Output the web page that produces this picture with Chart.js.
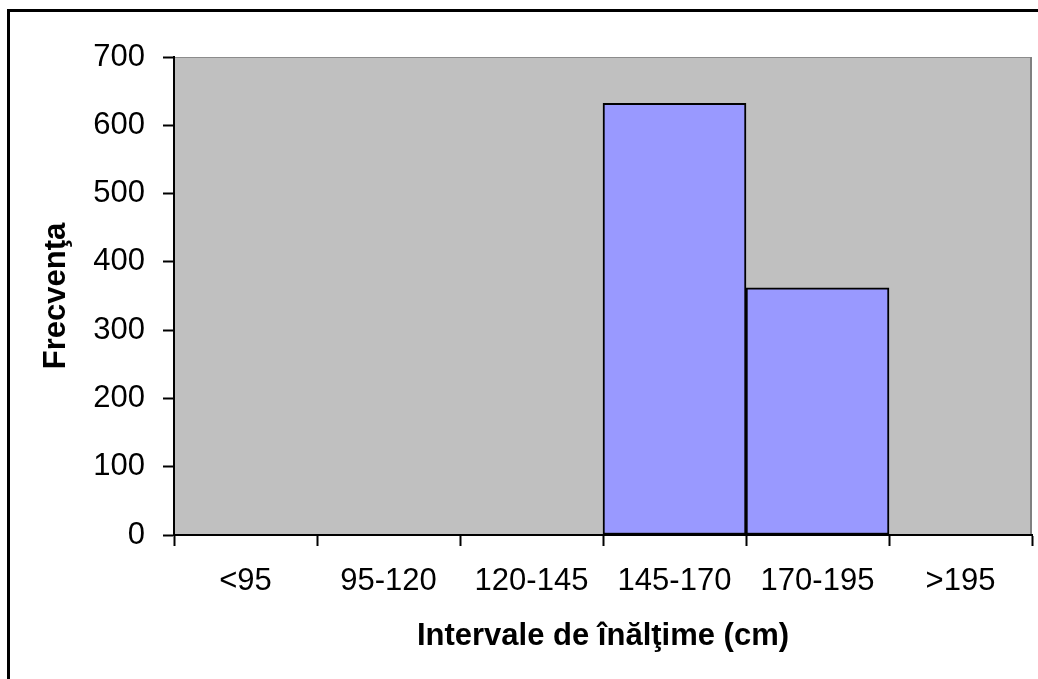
<!DOCTYPE html>
<html>
<head>
<meta charset="utf-8">
<script src="https://cdn.jsdelivr.net/npm/chart.js@4"></script>
<style>
  html, body { margin: 0; padding: 0; background: #fff; }
  #wrap { width: 1038px; height: 679px; }
</style>
</head>
<body>
<div id="wrap"><canvas id="histChart"></canvas></div>
<script>
const categories = ["<95", "95-120", "120-145", "145-170", "170-195", ">195"];
const frequencies = [0, 0, 0, 632, 362, 0];
const yTicks = [0, 100, 200, 300, 400, 500, 600, 700];

const xTitle = "Intervale de înălţime (cm)";
const yTitle = "Frecvenţa";

// ===== Gray plot area + frame =====
const plotBackground = {
  id: "plotBackground",
  beforeDraw(chart) {
    const { ctx, chartArea: a } = chart;
    ctx.save();
    // outer frame (top + left only, like the cropped original)
    ctx.fillStyle = "#000";
    ctx.fillRect(7, 9, 3, 670);
    ctx.fillRect(7, 9, 1031, 3);

    ctx.fillStyle = "#C0C0C0";
    ctx.fillRect(a.left, a.top, a.right - a.left, a.bottom - a.top);
    ctx.strokeStyle = "#8c8c8c";
    ctx.lineWidth = 1;
    ctx.beginPath();
    ctx.moveTo(a.left, a.top + 0.5);
    ctx.lineTo(a.right, a.top + 0.5);
    ctx.stroke();
    ctx.strokeStyle = "#808080";
    ctx.lineWidth = 2;
    ctx.beginPath();
    ctx.moveTo(a.right - 1, a.top);
    ctx.lineTo(a.right - 1, a.bottom);
    ctx.stroke();
    ctx.restore();
  },
};

const font = { family: "Arial, 'Liberation Sans', sans-serif", size: 31 };
const boldFont = { family: "Arial, 'Liberation Sans', sans-serif", size: 31, weight: "bold" };

new Chart(document.getElementById("histChart"), {
  type: "bar",
  data: {
    labels: categories,
    datasets: [
      {
        data: frequencies,
        backgroundColor: "#9999FF",
        borderColor: "#000",
        borderWidth: 2,
        borderSkipped: false,
        barPercentage: 1,
        categoryPercentage: 1,
      },
    ],
  },
  options: {
    responsive: true,
    maintainAspectRatio: false,
    animation: false,
    layout: { padding: { left: 20, top: 57, right: 6, bottom: 0 } },
    plugins: {
      legend: { display: false },
      tooltip: { enabled: false },
    },
    scales: {
      x: {
        offset: true,
        afterFit(scale) {
          scale.height = 144;
        },
        grid: {
          offset: true,
          drawOnChartArea: false,
          drawTicks: true,
          tickLength: 11,
          tickColor: "#000",
          tickWidth: 2,
        },
        border: { display: true, color: "#000", width: 2 },
        ticks: { color: "#000", font: font, padding: 17, maxRotation: 0 },
        title: {
          display: true,
          text: xTitle,
          color: "#000",
          font: boldFont,
          padding: { top: 0, bottom: 24 },
        },
      },
      y: {
        min: 0,
        max: 700,
        afterFit(scale) {
          scale.width = 154;
        },
        afterBuildTicks(scale) {
          scale.ticks = yTicks.map((v) => ({ value: v }));
        },
        grid: {
          drawOnChartArea: false,
          drawTicks: true,
          tickLength: 11,
          tickColor: "#000",
          tickWidth: 2,
        },
        border: { display: true, color: "#000", width: 2 },
        ticks: { color: "#000", font: font, padding: 18 },
        title: {
          display: true,
          text: yTitle,
          color: "#000",
          font: boldFont,
          padding: { top: 18, bottom: 0 },
        },
      },
    },
  },
  plugins: [plotBackground],
});
</script>
</body>
</html>
